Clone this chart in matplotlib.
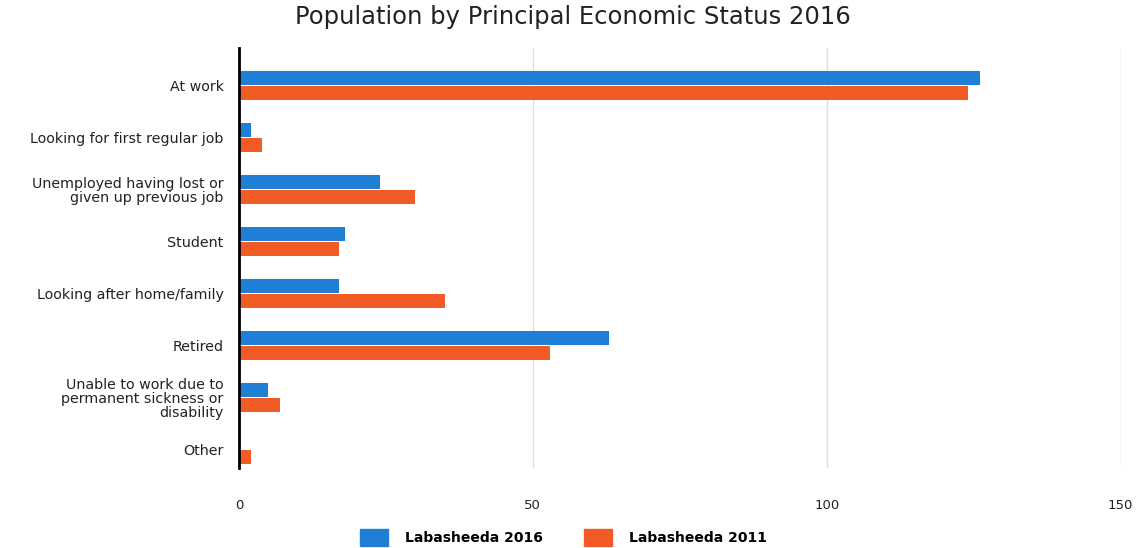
import numpy as np
import matplotlib.pyplot as plt
from matplotlib.patches import Patch

categories = ["At work", "Looking for first regular job",
              "Unemployed having lost or\ngiven up previous job", "Student",
              "Looking after home/family", "Retired",
              "Unable to work due to\npermanent sickness or\ndisability", "Other"]
pop_2016 = [126, 2, 24, 18, 17, 63, 5, 0]
pop_2011 = [124, 4, 30, 17, 35, 53, 7, 2]
x_ticks = [0, 50, 100, 150]

blue = '#1f7fd6'
orange = '#f25a26'

plt.rcParams['font.family'] = ['DejaVu Sans']

fig = plt.figure(figsize=(11.45, 5.48), dpi=100)
ax = fig.add_axes([0.2087, 0.146, 0.77, 0.766])

y = np.arange(len(categories))
h = 0.27
ax.barh(y - h / 2 - 0.01, pop_2016, height=h, color=blue)
ax.barh(y + h / 2 + 0.01, pop_2011, height=h, color=orange)

ax.set_ylim(len(categories) - 0.65, -0.71)
ax.set_xlim(0, 150)
ax.set_yticks(y)
ax.set_yticklabels(categories, fontsize=10.3, color='#222222', linespacing=0.98)
ax.set_xticks(x_ticks)
ax.set_xticklabels([str(t) for t in x_ticks], fontsize=9.5, color='#222222')
ax.tick_params(axis='both', length=0)
ax.tick_params(axis='y', pad=11)
ax.tick_params(axis='x', pad=22)

for s in ['top', 'right', 'bottom']:
    ax.spines[s].set_visible(False)
ax.spines['left'].set_linewidth(2)
ax.spines['left'].set_color('black')

ax.grid(axis='x', color='#dddddd', linewidth=1)
ax.set_axisbelow(True)

fig.suptitle("Population by Principal Economic Status 2016", y=0.99, fontsize=17.5,
             color='#222222')

handles = [Patch(color=blue, label='Labasheeda 2016'),
           Patch(color=orange, label='Labasheeda 2011')]
fig.legend(handles=handles, loc='center', bbox_to_anchor=(0.492, 0.02), ncol=2,
           frameon=False, handlelength=2.0, handleheight=1.5, columnspacing=3.0,
           handletextpad=1.2, prop={'weight': 'bold', 'size': 10})

plt.savefig('out.png', dpi=100)
